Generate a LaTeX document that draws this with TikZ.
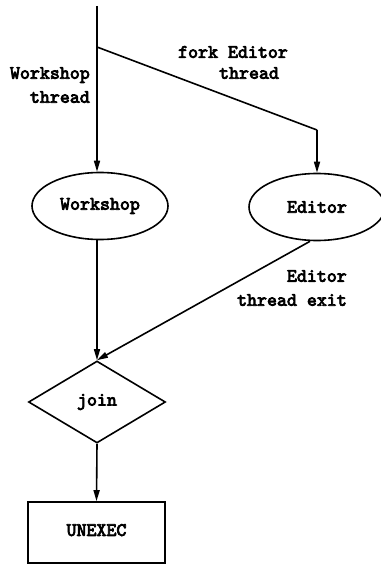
\documentclass[tikz,border=0pt]{standalone}
\usepackage{fontspec}
\setmonofont{lmmono10-regular.otf}[AutoFakeBold=4]
\usetikzlibrary{shapes.geometric,arrows.meta}
\begin{document}
\begin{tikzpicture}[x=1pt,y=-1pt,
  every node/.style={font=\ttfamily\bfseries\fontsize{19}{24}\selectfont},
  line/.style={line width=1.6pt},
  flow/.style={line, -{Triangle[length=11pt,width=6pt]}},
  oval/.style={draw, line width=1.6pt, ellipse, minimum width=136pt, minimum height=67pt, inner sep=0pt},
  decision/.style={draw, line width=1.6pt, diamond, minimum width=137pt, minimum height=82pt, aspect=1.67, inner sep=0pt},
  block/.style={draw, line width=1.6pt, rectangle, minimum width=137pt, minimum height=61pt, inner sep=0pt},
  lbl/.style={inner sep=0pt, align=right}]
\useasboundingbox (0,0) rectangle (380,564);
% control points of the main thread and the fork
\coordinate (start) at (97,6);
\coordinate (fork) at (97,47);
\coordinate (bend) at (317,130);
% process nodes
\node[oval] (ws) at (100,206) {Workshop};
\node[oval] (ed) at (317,207) {Editor};
\node[decision] (join) at (97,402) {join};
\node[block] (unexec) at (96.5,532.5) {\raisebox{5pt}{UNEXEC}};
% connectors
\draw[flow] (start) -- (start |- ws.north);
\draw[line] (fork) -- (bend);
\draw[flow] (bend) -- (ed.north);
\draw[flow] (join.north |- ws.south) -- (join.north);
\draw[flow] ([xshift=-7pt]ed.south) -- (join.north);
\draw[flow] (join.south) -- (unexec.north);
% edge labels
\node[lbl, anchor=east] (wslbl) at (90,85) {Workshop\\thread};
\node[inner sep=0pt] (forklbl) at (233,52) {fork Editor};
\node[inner sep=0pt] (threadlbl) at (249,73) {thread};
\node[lbl, anchor=east] (exitlbl) at (347,288) {Editor\\thread exit};
\end{tikzpicture}
\end{document}
